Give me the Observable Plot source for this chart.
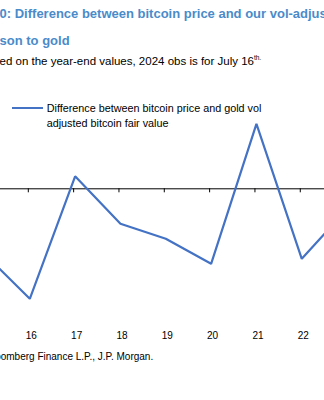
<!DOCTYPE html>
<html><head><meta charset="utf-8">
<script src="https://cdn.jsdelivr.net/npm/d3@7"></script>
<script src="https://cdn.jsdelivr.net/npm/@observablehq/plot@0.6"></script>
<style>
html,body{margin:0;padding:0;width:324px;height:400px;overflow:hidden;background:#fff;font-family:"Liberation Sans",Arial,sans-serif;}
#page{position:absolute;left:-51px;top:0;width:420px;height:400px;}
.t{position:absolute;white-space:nowrap;line-height:1;left:0;}
.title{font-weight:bold;font-size:13px;color:#4a8bca;}
.sub{font-size:11.5px;color:#000;}
.src{font-size:10px;color:#000;}
#chart{position:absolute;left:51px;top:70px;}
#legend{position:absolute;left:62.7px;top:100.5px;font-size:10.8px;line-height:15px;color:#000;}
#legend .sw{position:absolute;left:0;top:6.5px;width:31px;height:2px;background:#4472c4;}
#legend .lt{position:absolute;left:35px;top:0;white-space:nowrap;}
sup{font-size:6.5px;vertical-align:5px;}
</style>
</head><body>
<div id="page">
  <div class="t title" style="top:7px">Figure 10: Difference between bitcoin price and our vol-adjusted bitcoin fair value in</div>
  <div class="t title" style="top:33.5px">comparison to gold</div>
  <div class="t sub" style="top:55px">Note: Based on the year-end values, 2024 obs is for July 16<sup>th.</sup></div>
  <div id="chart"></div>
  <div id="legend"><div class="sw"></div><div class="lt">Difference between bitcoin price and gold vol<br>adjusted bitcoin fair value</div></div>
  <div class="t src" style="top:351.5px">Source: Bloomberg Finance L.P., J.P. Morgan.</div>
</div>
<script>
const years = [2015, 2016, 2017, 2018, 2019, 2020, 2021, 2022, 2023];
const values = [-26, -44, 5, -14, -20, -30, 26, -28, -8];
const tickLabels = ["15", "16", "17", "18", "19", "20", "21", "22", "23"];
const seriesName = "Difference between bitcoin price and gold vol adjusted bitcoin fair value";

const data = years.map((year, i) => ({year, value: values[i]}));

const W = 324, first = 29.3, step = 45.33;
const xDomain = [2016 - first / step, 2016 + (W - first) / step];

const chart = Plot.plot({
  width: W,
  height: 290,
  marginLeft: 0,
  marginRight: 0,
  marginTop: 18.3,
  marginBottom: 41.7,
  style: {fontFamily: '"Liberation Sans", Arial, sans-serif', background: "transparent", overflow: "visible"},
  x: {domain: xDomain, axis: null},
  y: {domain: [-52, 40], axis: null},
  marks: [
    Plot.ruleY([0], {stroke: "#000", strokeWidth: 1}),
    Plot.ruleX(years, {x: d => d, y1: 0, y2: -1.6, stroke: "#000", strokeWidth: 1, dx: -1.5, clip: true}),
    Plot.line(data, {x: "year", y: "value", stroke: "#4472c4", strokeWidth: 2.2, strokeLinejoin: "miter", clip: true}),
    Plot.axisX(years, {anchor: "bottom", label: null, tickSize: 0, tickPadding: 13, fontSize: 10, dx: 1.5,
      tickFormat: d => tickLabels[years.indexOf(d)]})
  ]
});
document.getElementById("chart").appendChild(chart);
</script>
</body></html>
